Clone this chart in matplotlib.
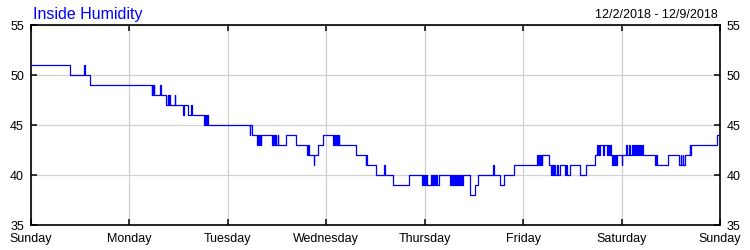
import matplotlib
matplotlib.use("Agg")
import matplotlib.pyplot as plt

plt.rcParams['font.family'] = ['Liberation Sans', 'DejaVu Sans']

# Data: change points (hours since Sunday 00:00) and humidity (%)
hours = [
    0, 9.5, 12.9, 13.1, 14.4, 29.5, 29.6, 29.7, 29.9, 30.0,
    31.5, 31.6, 32.9, 33.4, 33.5, 33.6, 33.8, 35.1, 35.2, 37.1,
    37.2, 38.3, 39.1, 39.3, 42.2, 42.4, 42.7, 42.9, 43.2, 53.4,
    53.5, 53.8, 55.2, 55.4, 55.6, 55.8, 56.0, 56.2, 58.8, 58.9,
    59.0, 59.2, 59.3, 59.5, 59.7, 60.2, 60.3, 62.2, 64.6, 67.3,
    67.5, 67.8, 69.0, 69.1, 70.0, 71.2, 73.6, 73.8, 74.0, 74.2,
    74.4, 74.6, 74.8, 75.0, 75.2, 79.2, 81.7, 81.8, 82.0, 84.1,
    86.1, 86.2, 88.3, 92.2, 95.3, 95.5, 95.7, 95.9, 96.1, 96.3,
    96.5, 97.5, 97.7, 97.9, 98.1, 98.3, 98.5, 98.7, 99.1, 99.5,
    102.2, 102.4, 102.6, 102.8, 103.0, 103.2, 103.4, 103.6, 103.8, 104.0,
    104.3, 104.5, 104.7, 104.9, 105.1, 105.3, 107.0, 108.3, 109.1, 112.7,
    112.9, 114.4, 115.4, 117.8, 123.5, 123.7, 123.9, 124.1, 124.3, 124.5,
    124.7, 126.4, 126.8, 127.0, 127.2, 127.6, 127.8, 128.3, 128.5, 129.0,
    130.3, 130.5, 130.7, 131.4, 133.9, 135.3, 137.5, 138.0, 138.2, 138.4,
    138.6, 138.8, 139.5, 139.8, 140.4, 140.6, 140.9, 141.1, 141.4, 141.6,
    141.8, 142.1, 142.3, 142.6, 142.8, 144.1, 144.2, 145.1, 145.3, 145.8,
    146.0, 146.5, 146.7, 147.1, 147.3, 147.6, 147.8, 148.1, 148.3, 148.6,
    148.8, 149.0, 149.2, 152.2, 152.4, 152.6, 155.2, 158.1, 158.4, 158.6,
    159.0, 159.1, 159.5, 160.7, 160.8, 160.9, 167.3, 168.0,
]
humidity = [
    51, 50, 51, 50, 49, 48, 49, 48, 49, 48,
    49, 48, 47, 48, 47, 48, 47, 48, 47, 46,
    47, 46, 47, 46, 45, 46, 45, 46, 45, 44,
    45, 44, 43, 44, 43, 44, 43, 44, 43, 44,
    43, 44, 43, 44, 43, 44, 43, 44, 43, 42,
    43, 42, 41, 42, 43, 44, 43, 44, 43, 44,
    43, 44, 43, 44, 43, 42, 41, 42, 41, 40,
    41, 40, 39, 40, 39, 40, 39, 40, 39, 40,
    39, 40, 39, 40, 39, 40, 39, 40, 39, 40,
    39, 40, 39, 40, 39, 40, 39, 40, 39, 40,
    39, 40, 39, 40, 39, 40, 38, 39, 40, 41,
    40, 39, 40, 41, 42, 41, 42, 41, 42, 41,
    42, 41, 40, 41, 40, 41, 40, 41, 40, 41,
    40, 41, 40, 41, 40, 41, 42, 43, 42, 43,
    42, 43, 42, 43, 42, 43, 42, 43, 42, 41,
    42, 41, 42, 41, 42, 41, 42, 43, 42, 43,
    42, 43, 42, 43, 42, 43, 42, 43, 42, 43,
    42, 43, 42, 41, 42, 41, 42, 41, 42, 41,
    42, 41, 42, 43, 42, 43, 44, 44,
]
day_ticks = [0, 24, 48, 72, 96, 120, 144, 168]
day_labels = ["Sunday", "Monday", "Tuesday", "Wednesday", "Thursday",
              "Friday", "Saturday", "Sunday"]
y_ticks = [35, 40, 45, 50, 55]
title = "Inside Humidity"
date_range = "12/2/2018 - 12/9/2018"

fig = plt.figure(figsize=(7.5, 2.5), dpi=100)
W, H = 750, 250
ax = fig.add_axes([31 / W, 25 / H, 689 / W, 200 / H])

ax.step(hours, humidity, where='post', color='#0000ff', lw=0.9, zorder=3)

ax.set_xlim(0, 168)
ax.set_ylim(35, 55)
ax.set_xticks(day_ticks)
ax.set_xticklabels(day_labels)
ax.set_yticks(y_ticks)
ax.grid(True, color='#d0d0d0', lw=0.9, zorder=0)
ax.set_axisbelow(True)
for s in ax.spines.values():
    s.set_linewidth(1.2)
    s.set_color('black')
ax.tick_params(axis='both', direction='in', length=4, width=1.1,
               top=True, right=True, labelright=True, labelsize=9,
               colors='black')
ax.tick_params(axis='x', pad=6)
ax.tick_params(axis='y', pad=5)

fig.text(33 / W, 1 - 18.5 / H, title, color='#0000ff', fontsize=11.5,
         ha='left', va='baseline')
fig.text(718 / W, 1 - 17.5 / H, date_range, color='black', fontsize=9,
         ha='right', va='baseline')

fig.savefig("out.png", dpi=100)
